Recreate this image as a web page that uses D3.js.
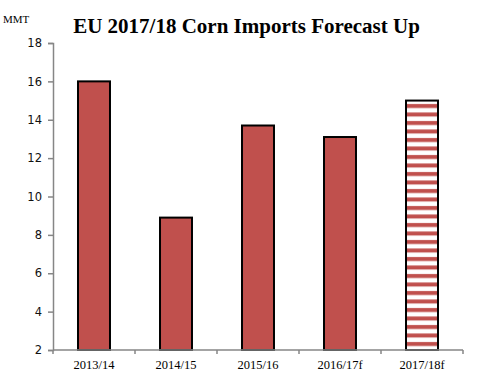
<!DOCTYPE html>
<html><head><meta charset="utf-8">
<script src="https://cdn.jsdelivr.net/npm/d3@7"></script>
<style>body{margin:0;background:#fff}svg{display:block}</style>
</head><body>
<script>
const categories = ["2013/14","2014/15","2015/16","2016/17f","2017/18f"];
const values = [16.0, 8.9, 13.7, 13.1, 15.0];
const forecastFlags = [false, false, false, false, true];
const yTicks = [2,4,6,8,10,12,14,16,18];
const title = "EU 2017/18 Corn Imports Forecast Up";
const unitLabel = "MMT";

const W = 494, H = 389;
const svg = d3.select("body").append("svg").attr("width", W).attr("height", H);

const defs = svg.append("defs");
const pat = defs.append("pattern").attr("id","stripes").attr("patternUnits","userSpaceOnUse")
  .attr("width", 8).attr("height", 8.5);
pat.append("rect").attr("width",8).attr("height",8.5).attr("fill","#fff");
pat.append("rect").attr("y",2).attr("width",8).attr("height",4).attr("fill","#C0504D");

const x = d3.scaleBand().domain(categories).range([53, 463]).paddingInner(0.61).paddingOuter(0.305);
const y = d3.scaleLinear().domain([2, 18]).range([350, 43]);

// bars
svg.selectAll("rect.bar").data(categories).enter().append("rect")
  .attr("class","bar")
  .attr("x", d => x(d))
  .attr("width", x.bandwidth())
  .attr("y", (d,i) => y(values[i]))
  .attr("height", (d,i) => y(2) - y(values[i]))
  .attr("fill", (d,i) => forecastFlags[i] ? "url(#stripes)" : "#C0504D")
  .attr("stroke", "#000").attr("stroke-width", 2);

// y axis
const yAxis = svg.append("g").attr("transform","translate(53,0)")
  .call(d3.axisLeft(y).tickValues(yTicks).tickSize(5).tickPadding(6).tickFormat(d3.format("d")));
yAxis.select(".domain").attr("stroke","#868686").attr("stroke-width",1.5);
yAxis.selectAll(".tick line").attr("stroke","#868686").attr("stroke-width",1.5);
yAxis.selectAll("text").attr("font-family","Verdana, 'DejaVu Sans', sans-serif").attr("font-size",11.5).attr("fill","#111");

// x axis
const x2 = d3.scaleLinear().domain([0,5]).range([53,463]);
const xAxisG = svg.append("g").attr("transform","translate(0,350)");
xAxisG.append("line").attr("x1",53).attr("x2",463).attr("stroke","#868686").attr("stroke-width",1.5);
xAxisG.selectAll("line.t").data(d3.range(0,6)).enter().append("line").attr("class","t")
  .attr("x1", d=>x2(d)).attr("x2", d=>x2(d)).attr("y1",0).attr("y2",4)
  .attr("stroke","#868686").attr("stroke-width",1.5);
xAxisG.selectAll("text").data(categories).enter().append("text")
  .attr("x", d => x(d) + x.bandwidth()/2).attr("y", 19)
  .attr("text-anchor","middle")
  .attr("font-family","'Liberation Serif', 'Times New Roman', serif").attr("font-size",12.5).attr("fill","#000")
  .text(d => d);

// title
svg.append("text").attr("x", 246.5).attr("y", 33).attr("text-anchor","middle")
  .attr("font-family","'Liberation Serif', 'Times New Roman', serif").attr("font-weight","bold").attr("font-size",21)
  .text(title);
svg.append("text").attr("x", 3).attr("y", 23)
  .attr("font-family","'Liberation Serif', 'Times New Roman', serif").attr("font-size",11)
  .text(unitLabel);
</script>
</body></html>
